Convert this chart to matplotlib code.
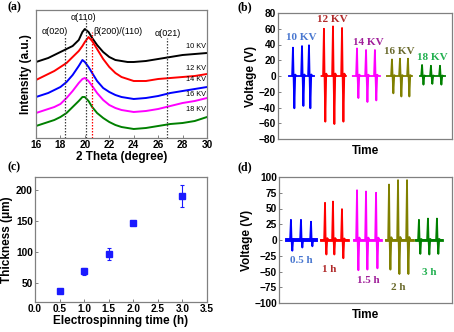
import matplotlib
matplotlib.use("Agg")
import matplotlib.pyplot as plt
import numpy as np

# ---------------- data ----------------
# (a) XRD curves (intensity offset units)
xrd_theta = [16, 16.5, 17, 17.5, 18, 18.5, 19, 19.5, 19.8, 20, 20.3, 20.6, 21, 21.5,
             22, 22.5, 23, 23.5, 24, 25, 26, 27, 28, 29, 30]
xrd_10kv = [76, 78, 80, 83, 86, 89, 92, 98, 106, 109, 106, 100, 93, 86, 81, 78, 77, 76, 76, 77, 79, 81, 83, 84, 85]
xrd_12kv = [58, 61, 64, 67, 71, 75, 81, 87, 92, 96, 101, 97, 89, 79, 71, 65, 61, 59, 57, 57, 59, 60, 61, 62, 64]
xrd_14kv = [41, 43, 45, 48, 51, 56, 63, 72, 78, 76, 71, 65, 57, 50, 46, 43, 41, 40, 39, 40, 42, 45, 47, 49, 51]
xrd_16kv = [25, 27, 29, 31, 34, 40, 47, 55, 59, 60, 57, 52, 45, 38, 33, 30, 28, 27, 26, 27, 29, 32, 35, 37, 40]
xrd_18kv = [12, 14, 16, 18, 21, 25, 31, 37, 41, 41, 37, 31, 25, 20, 16, 13, 11, 10, 9, 10, 12, 14, 15, 17, 21]
xrd_labels = ["10 KV", "12 KV", "14 KV", "16 KV", "18 KV"]
peak_names = ["α(020)", "α(110)", "β(200)/(110)", "α(021)"]
peak_pos = [18.4, 20.1, 20.6, 26.7]

# (b) voltage vs spinning voltage
b_labels = ["10 KV", "12 KV", "14 KV", "16 KV", "18 KV"]
b_spike_t = [[8.6, 13.8, 17.8], [26.4, 31.6, 36.8], [45.4, 50.6, 55.7], [65.5, 70.1, 74.7], [82.8, 87.9, 93.1]]
b_pos = [[36, 38, 39], [60, 63, 61], [35, 33, 33], [21, 22, 22], [14, 13, 13]]
b_neg = [[-41, -38, -41], [-58, -61, -58], [-28, -33, -31], [-22, -26, -26], [-11, -10, -11]]
b_base = [(6.3, 20.7), (25, 39), (43, 58.6), (62.6, 77), (81.6, 96)]

# (c) thickness
c_time = [0.5, 1.0, 1.5, 2.0, 3.0]
c_thick = [37, 69, 97, 146, 190]
c_err = [2, 5, 10, 3, 18]

# (d) voltage vs spinning time
d_labels = ["0.5 h", "1 h", "1.5 h", "2 h", "3 h"]
d_spike_t = [[6.9, 12.7, 18.5], [26.6, 31.2, 36.4], [45.1, 50.3, 56.1], [63.6, 68.8, 74.0], [80.9, 86.1, 91.3]]
d_pos = [[32, 32, 29], [59, 61, 49], [79, 77, 75], [88, 95, 95], [32, 34, 34]]
d_neg = [[-17, -12, -10], [-23, -23, -29], [-48, -47, -45], [-47, -54, -54], [-22, -23, -22]]
d_base = [(4.6, 21.4), (24.3, 39.9), (43.4, 59.0), (61.8, 77.5), (79.2, 94.2)]

# ---------------- style ----------------
line_cols = ["#0000ff", "#ff0000", "#ff00ff", "#808000", "#008000"]
lab_cols = ["#4a78d0", "#b02a2a", "#a0209a", "#6b6b2e", "#22b050"]
xrd_cols = ["black", "red", "blue", "magenta", "green"]
SANS = "Liberation Sans"
SERIF = "Liberation Serif"
spine_col = "#808080"

fig = plt.figure(figsize=(4.54, 3.32), dpi=100)
W, H = 454, 332

def add_ax(l, t, r, b):
    return fig.add_axes([l / W, 1 - b / H, (r - l) / W, (b - t) / H])

def style(ax):
    for s in ax.spines.values():
        s.set_color(spine_col)
        s.set_linewidth(0.9)
    ax.tick_params(direction="in", length=2, width=0.7, labelsize=7.3, pad=1.5, color=spine_col)
    for lab in ax.get_xticklabels() + ax.get_yticklabels():
        lab.set_fontweight("bold")
        lab.set_family(SANS)

def pulse_xy(tlist, pos, neg, base):
    xs, ys = [base[0]], [0]
    for t, p, n in zip(tlist, pos, neg):
        xs += [t - 0.5, t, t + 0.35, t + 0.8, t + 1.3, t + 2.0]
        ys += [0, p, 0, n, 0.05 * p, 0]
    xs.append(base[1]); ys.append(0)
    return xs, ys

# ---------------- (a) ----------------
axa = add_ax(36, 10, 207, 138)
curves = [xrd_10kv, xrd_12kv, xrd_14kv, xrd_16kv, xrd_18kv]
for ys, c in zip(curves, xrd_cols):
    axa.plot(xrd_theta, ys, color=c, lw=1.4)
axa.set_xlim(16, 30)
axa.set_ylim(0, 128)
axa.set_xticks(range(16, 31, 2))
axa.set_yticks([])
tops = [101, 118, 106, 100]
for p, tp, nm in zip(peak_pos, tops, peak_names):
    col = "red" if nm.startswith("β") else "#404040"
    axa.plot([p, p], [0, tp], ls=(0, (1.2, 1.2)), color=col, lw=0.9)
axa.text(17.55, 106, peak_names[0], fontsize=6.5, ha="center", va="center", family=SANS)
axa.text(19.9, 121, peak_names[1], fontsize=6.5, ha="center", va="center", family=SANS)
axa.text(20.7, 106, peak_names[2], fontsize=6.5, ha="left", va="center", family=SANS)
axa.text(26.8, 105, peak_names[3], fontsize=6.5, ha="center", va="center", family=SANS)
for lab, yy in zip(xrd_labels, [88, 66, 55, 40, 25]):
    axa.text(29.9, yy, lab, fontsize=5.3, ha="right", va="bottom", family=SANS)
axa.set_xlabel("2 Theta (degree)", fontsize=8.5, fontweight="bold", family=SANS, labelpad=1)
axa.set_ylabel("Intensity (a.u.)", fontsize=8.5, fontweight="bold", family=SANS, labelpad=3)
style(axa)

# ---------------- (b) ----------------
axb = add_ax(278, 13, 452, 139)
for i in range(5):
    xs, ys = pulse_xy(b_spike_t[i], b_pos[i], b_neg[i], b_base[i])
    axb.plot(xs, ys, color=line_cols[i], lw=1.3)
b_lab_pos = [(13.2, 49), (31, 72), (52, 43), (69.5, 31), (88.5, 24)]
for lab, (tx, ty), c in zip(b_labels, b_lab_pos, lab_cols):
    axb.text(tx, ty, lab, color=c, fontsize=8, fontweight="bold", family=SERIF, ha="center", va="center")
axb.set_xlim(0, 100)
axb.set_ylim(-80, 80)
axb.set_yticks(range(-80, 81, 20))
axb.set_xticks([])
axb.set_xlabel("Time", fontsize=8.5, fontweight="bold", family=SANS, labelpad=4)
axb.set_ylabel("Voltage (V)", fontsize=8.5, fontweight="bold", family=SANS, labelpad=1)
style(axb)

# ---------------- (c) ----------------
axc = add_ax(35, 177, 207, 302)
axc.errorbar(c_time, c_thick, yerr=c_err, fmt="s", color="#1a1aff", ms=4,
             elinewidth=0.8, capsize=1.5, capthick=0.8)
axc.set_xlim(0, 3.5)
axc.set_ylim(20, 220)
axc.set_xticks(np.arange(0, 3.51, 0.5))
axc.set_xticklabels([f"{v:.1f}" for v in np.arange(0, 3.51, 0.5)])
axc.set_yticks([50, 100, 150, 200])
axc.set_xlabel("Electrospinning time (h)", fontsize=8.5, fontweight="bold", family=SANS, labelpad=1)
axc.set_ylabel("Thickness (μm)", fontsize=8.5, fontweight="bold", family=SANS, labelpad=2)
style(axc)

# ---------------- (d) ----------------
axd = add_ax(279, 177, 452, 303)
for i in range(5):
    xs, ys = pulse_xy(d_spike_t[i], d_pos[i], d_neg[i], d_base[i])
    axd.plot(xs, ys, color=line_cols[i], lw=1.3)
    axd.plot(list(d_base[i]), [0, 0], color=line_cols[i], lw=2.8 if i == 0 else 2.0)
d_lab_pos = [(12.7, -32), (29, -47), (51.6, -65), (69, -75), (87, -52)]
for lab, (tx, ty), c in zip(d_labels, d_lab_pos, lab_cols):
    axd.text(tx, ty, lab, color=c, fontsize=8, fontweight="bold", family=SERIF, ha="center", va="center")
axd.set_xlim(0, 100)
axd.set_ylim(-100, 100)
axd.set_yticks(range(-100, 101, 25))
axd.set_xticks([])
axd.set_xlabel("Time", fontsize=8.5, fontweight="bold", family=SANS, labelpad=4)
axd.set_ylabel("Voltage (V)", fontsize=8.5, fontweight="bold", family=SANS, labelpad=1)
style(axd)

# panel labels
for lab, (px, py) in zip(["(a)", "(b)", "(c)", "(d)"], [(7, 7), (238, 7), (7, 167), (238, 167)]):
    fig.text(px / W, 1 - py / H, lab, fontsize=8.5, fontweight="bold", family=SERIF, ha="left", va="center")

fig.savefig("out.png", dpi=100)
